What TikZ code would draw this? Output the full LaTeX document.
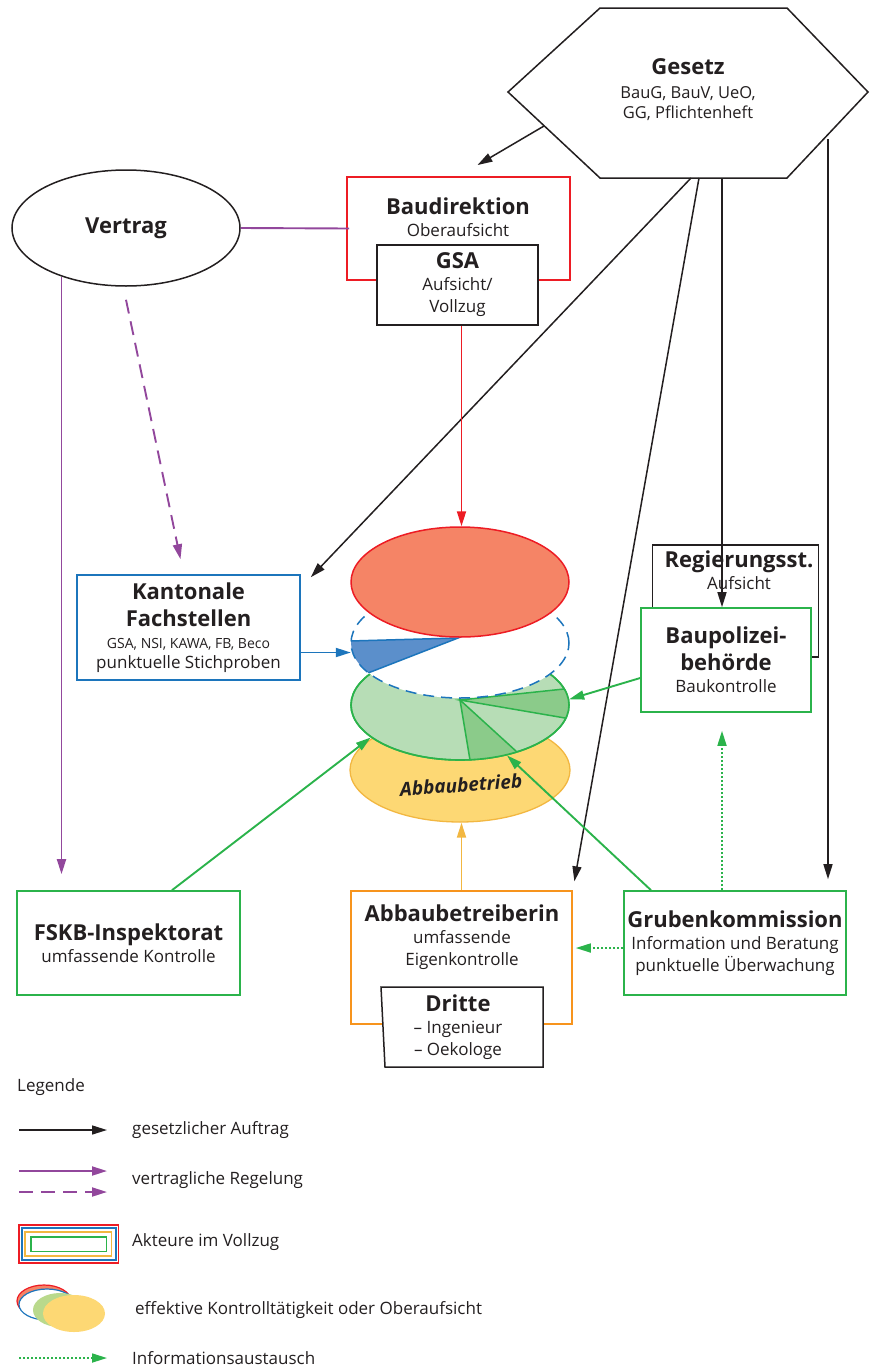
\documentclass[tikz,border=0pt]{standalone}
\usepackage{fontspec}
\setmainfont{Open Sans}
\usetikzlibrary{arrows.meta,shapes.geometric}
\definecolor{ink}{HTML}{231F20}
\definecolor{bdred}{HTML}{ED1C24}
\definecolor{salmon}{HTML}{F58466}
\definecolor{kblue}{HTML}{1C75BC}
\definecolor{wedgeblue}{HTML}{5B8FCB}
\definecolor{kgreen}{HTML}{2BB34B}
\definecolor{lgreen}{HTML}{B7DDB6}
\definecolor{mgreen}{HTML}{8BCB8A}
\definecolor{legreen}{HTML}{B9D98C}
\definecolor{korange}{HTML}{F7941D}
\definecolor{yfill}{HTML}{FDD874}
\definecolor{yline}{HTML}{F2B741}
\definecolor{vpurple}{HTML}{92479C}
\newcommand{\tit}[1]{{\fontsize{22}{27}\selectfont\bfseries #1}}
\newcommand{\sml}[1]{{\fontsize{14}{18}\selectfont #1}}
\tikzset{
  txt/.style={align=center,inner sep=0pt,text=ink,font=\fontsize{17}{22}\selectfont},
  box/.style={txt,draw=#1,line width=1.6pt,fill=white},
  oval/.style={ellipse,inner sep=0pt,minimum width=218,minimum height=110},
  legtxt/.style={txt,anchor=west},
  tip/.style={-{Triangle[length=15pt,width=9pt]}},
  law/.style={tip,draw=ink,line width=1.5pt},
  pact/.style={tip,draw=vpurple,line width=1.9pt},
  pactdash/.style={pact,dash pattern=on 14pt off 8pt},
  ctrl/.style={tip,draw=#1,line width=1.9pt},
  info/.style={tip,draw=kgreen,line width=1.7pt,dash pattern=on 2pt off 2pt}
}
\begin{document}
\begin{tikzpicture}[x=1pt,y=-1pt]%Aufsicht Abbau
\useasboundingbox (0,0) rectangle (870,1368);
\draw[ink,line width=1.5pt,fill=white] (508,92) -- (600,8) -- (787,8) -- (868,92) -- (787,178) -- (600,178) -- cycle;
\node[txt] (gesetz) at (688,90) {\tit{Gesetz}\\[2pt]{\fontsize{16.5}{20}\selectfont BauG, BauV, UeO,}\\[-2pt]{\fontsize{16.5}{20}\selectfont GG, Pflichtenheft}};
\coordinate (g-bd) at (544,126);
\coordinate (g-kf) at (691,178);
\coordinate (g-ab) at (699,178);
\coordinate (g-bp) at (722,178);
\coordinate (g-gk) at (828,139);

\node[txt,oval,draw=ink,line width=1.5pt,minimum width=228,minimum height=116] (vertrag) at (126,228) {\tit{Vertrag}};
\node[box=bdred,minimum width=223,minimum height=103] (baudir) at (458.5,228.5) {};
\node[txt] (baudirtxt) at (458,217) {\tit{Baudirektion}\\Oberaufsicht};
\node[box=ink,minimum width=161,minimum height=80] (gsa) at (457.5,285) {\tit{GSA}\\Aufsicht/\\Vollzug};

\node[box=kblue,minimum width=223,minimum height=105] (kanton) at (188.5,627.5) {\tit{Kantonale}\\[5pt]\tit{Fachstellen}\\\sml{GSA, NSI, KAWA, FB, Beco}\\[-2pt]punktuelle Stichproben};
\node[box=ink,minimum width=166,minimum height=112] (regst) at (735.5,601) {};
\node[txt] (regsttxt) at (739,570) {\tit{Regierungsst.}\\Aufsicht};
\node[box=kgreen,minimum width=170,minimum height=104] (baupol) at (726,660) {\tit{Baupolizei-}\\[5pt]\tit{behörde}\\Baukontrolle};

\node[box=kgreen,minimum width=223,minimum height=104] (fskb) at (128.5,943) {\tit{FSKB-Inspektorat}\\umfassende Kontrolle};
\node[box=korange,minimum width=221,minimum height=133] (abbau) at (461.5,957.5) {};
\node[txt] (abbautxt) at (462,937) {\tit{Abbaubetreiberin}\\umfassende\\Eigenkontrolle};
\draw[ink,line width=1.5pt,fill=white] (381,987) -- (543,987) -- (543,1067) -- (385,1067) -- cycle;
\node[txt] (dritte) at (458,1027) {\tit{Dritte}\\– Ingenieur\\– Oekologe};
\node[box=kgreen,minimum width=222,minimum height=104] (grube) at (735,943) {\tit{Grubenkommission}\\Information und Beratung\\punktuelle Überwachung};

\node[oval,draw=yline,fill=yfill,line width=1.3pt,minimum width=220,minimum height=104] (betrieb) at (460,770) {};
\node[oval,draw=kgreen,fill=lgreen,line width=1.6pt] (kontrolle) at (460,705) {};
\begin{scope}
\clip (460,705) ellipse [x radius=109pt,y radius=55pt];
\draw[kgreen,line width=1.5pt,fill=mgreen] (460,700) -- (480,820) -- (574,804) -- cycle;
\draw[kgreen,line width=1.5pt,fill=mgreen] (460,700) -- (670,736) -- (668,678) -- cycle;
\end{scope}
\draw[kgreen,line width=1.6pt] (460,705) ellipse [x radius=109pt,y radius=55pt];
\node[oval,fill=white] (stich) at (460,643) {};
\begin{scope}
\clip (460,643) ellipse [x radius=109pt,y radius=55pt];
\draw[kblue,line width=1.5pt,fill=wedgeblue] (458,638) -- (242,644) -- (278,708) -- cycle;
\end{scope}
\draw[kblue,line width=1.5pt,dash pattern=on 11pt off 7pt] (460,643) ellipse [x radius=109pt,y radius=55pt];
\node[oval,draw=bdred,fill=salmon,line width=1.5pt] (redov) at (460,582) {};
\node[rotate=4,text=ink,font=\fontsize{19}{22}\selectfont\bfseries\itshape] (betriebtxt) at (461,785) {Abbaubetrieb};

\draw[law,shorten >=22pt] (g-bd) -- (baudir.north);
\draw[law] (g-kf) -- ([shift={(10pt,-3pt)}]kanton.north east);
\draw[law,shorten >=9pt] (g-ab) -- (abbau.north east);
\draw[law] (g-bp) -- (g-bp |- baupol.north);
\draw[law,shorten >=11pt] (g-gk) -- (g-gk |- grube.north);
\draw[vpurple,line width=1.9pt] (vertrag.east) -- ([xshift=3pt]baudir.west);
\draw[pact,shorten >=16pt] (vertrag.217) -- (vertrag.217 |- fskb.north);
\draw[pactdash] ([yshift=-13pt]vertrag.south) -- ([shift={(-8pt,15pt)}]kanton.north);
\draw[ctrl=bdred] ([xshift=4pt]gsa.south) -- ([xshift=4pt]gsa.south |- redov.north);
\coordinate (k-out) at ([yshift=-25pt]kanton.east);
\draw[ctrl=kblue] (k-out) -- (k-out -| stich.west);
\draw[ctrl=kgreen] ([yshift=-18pt]baupol.west) -- (kontrolle.3);
\draw[ctrl=kgreen] ([xshift=43.5pt]fskb.north) -- (kontrolle.200);
\draw[ctrl=kgreen] ([xshift=-84pt]grube.north) -- (kontrolle.313);
\draw[ctrl=yline] (abbau.north) -- (abbau.north |- betrieb.south);
\draw[info,shorten >=18pt] ([xshift=-13pt]grube.north) -- ([xshift=-4pt]baupol.south);
\draw[info,shorten >=3pt] ([yshift=-5pt]grube.west) -- ([yshift=-5pt]grube.west -| abbau.east);

\node[legtxt] (legende) at (17,1087) {Legende};
\node[legtxt] (l-law) at (132,1130) {gesetzlicher Auftrag};
\coordinate (la) at (19,1130);
\draw[law,shorten >=25pt] (la) -- (la -| l-law.west);
\node[legtxt] (l-pact) at (132,1180) {vertragliche Regelung};
\coordinate (lp1) at (19,1171);
\coordinate (lp2) at (19,1192);
\draw[pact,shorten >=25pt] (lp1) -- (lp1 -| l-pact.west);
\draw[pactdash,shorten >=25pt] (lp2) -- (lp2 -| l-pact.west);
\draw[bdred,line width=1.6pt] (19,1225) rectangle (118.5,1263);
\draw[kblue,line width=1.6pt] (22,1228) rectangle (116,1260);
\draw[yline,line width=1.4pt] (25,1232) rectangle (111.5,1256);
\draw[kgreen,line width=1.6pt] (31,1237) rectangle (106.5,1251.5);
\node[legtxt] (l-akt) at (132,1242) {Akteure im Vollzug};
\draw[bdred,line width=1.2pt,fill=salmon] (44,1301) ellipse [x radius=27pt,y radius=16pt];
\draw[kblue,line width=1.2pt,fill=white] (47,1304.5) ellipse [x radius=28pt,y radius=15.5pt];
\fill[legreen] (60,1310) ellipse [x radius=27pt,y radius=17pt];
\fill[yfill] (74,1313.5) ellipse [x radius=31pt,y radius=18.5pt];
\node[legtxt] (l-eff) at (135,1310) {effektive Kontrolltätigkeit oder Oberaufsicht};
\node[legtxt] (l-info) at (132,1358) {Informationsaustausch};
\coordinate (li) at (19,1358);
\draw[info,shorten >=25pt] (li) -- (li -| l-info.west);
\end{tikzpicture}
\end{document}
